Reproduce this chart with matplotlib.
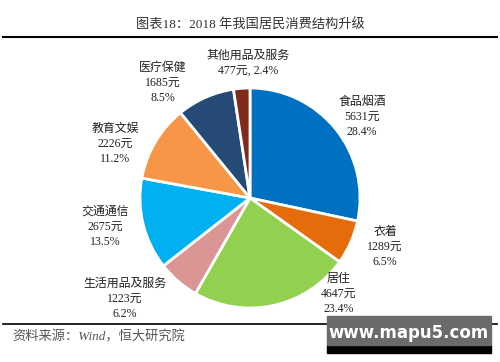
import matplotlib.pyplot as plt
from matplotlib.patches import Rectangle

# 2018 年居民人均消费支出结构
categories = ['食品烟酒', '衣着', '居住', '生活用品及服务', '交通通信', '教育文娱', '医疗保健', '其他用品及服务']
values = [5631, 1289, 4647, 1223, 2675, 2226, 1685, 477]
shares = ['28.4%', '6.5%', '23.4%', '6.2%', '13.5%', '11.2%', '8.5%', '2.4%']
colors = ['#0070C0', '#E46C0A', '#92D050', '#D99694', '#00B0F0', '#F79646', '#254A75', '#7F2B1E']

# 标签位置（像素坐标，原点在左上）
label_pos = [(362, 117), (385, 247), (339, 294), (125, 299), (105, 227), (115, 144), (163, 83), (248, 63)]

fonts = ['Liberation Serif', 'Noto Sans CJK SC']
plt.rcParams['font.family'] = fonts

fig = plt.figure(figsize=(5, 3.62), dpi=100)
ax = fig.add_axes([0, 0, 1, 1])

H = 362
ax.pie(values, colors=colors, startangle=90, counterclock=False,
       center=(250, H - 198), radius=110, frame=True,
       wedgeprops=dict(edgecolor='white', linewidth=2))
ax.set_xlim(0, 500)
ax.set_ylim(0, 362)
ax.set_aspect('equal')
ax.axis('off')

for cat, v, s, (px, py) in zip(categories, values, shares, label_pos):
    if cat == '其他用品及服务':
        txt = f'{cat}\n{v}元, {s}'
    else:
        txt = f'{cat}\n{v}元\n{s}'
    ax.text(px, H - py, txt, ha='center', va='center', fontsize=8.6,
            linespacing=1.35, color='#222222')

# 标题与分隔线
fig.text(0.5, 1 - 25 / H, '图表18：2018 年我国居民消费结构升级', ha='center', va='center',
         fontsize=9.5, color='#333333')
ax.plot([3, 497], [H - 37, H - 37], color='black', linewidth=1.5)
ax.plot([3, 497], [H - 324, H - 324], color='black', linewidth=1.2)
fig.text(12 / 500, 1 - 337 / H, '资料来源：Wind，恒大研究院', ha='left', va='center',
         fontsize=9.5, style='italic', color='#555555')

# 水印
ax.add_patch(Rectangle((327, H - 353), 164, 8, color='black', zorder=5))
ax.add_patch(Rectangle((327, H - 345), 164, 29, color='#6B6B6B', zorder=5))
ax.text(409, H - 333, 'www.mapu5.com', ha='center', va='center', fontsize=12,
        fontweight='bold', color='white', family='DejaVu Sans', zorder=6)

plt.savefig('out.png', dpi=100)
